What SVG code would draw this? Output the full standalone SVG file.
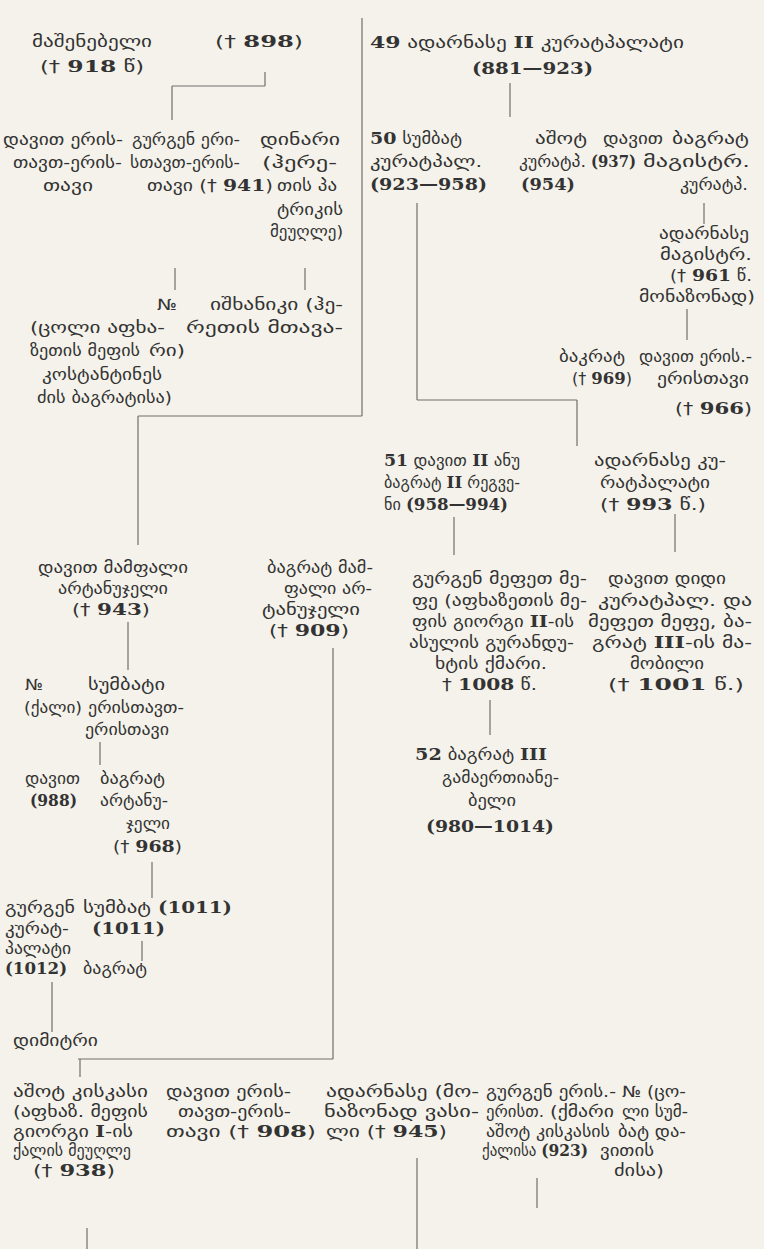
<svg xmlns="http://www.w3.org/2000/svg" width="764" height="1249" viewBox="0 0 764 1249">
<style>
text{font-family:"DejaVu Sans",sans-serif;font-size:15.5px;fill:#333}
.n{font-family:"DejaVu Serif",serif;font-weight:bold;font-size:16px}
#connectors line{stroke:#6e6e6e;stroke-width:1.2}
</style>
<rect width="764" height="1249" fill="#f4f2ea"/>
<g id="connectors">
<line x1="265" y1="72" x2="265" y2="86"/><line x1="172" y1="86" x2="265" y2="86"/><line x1="172" y1="86" x2="172" y2="120"/>
<line x1="175" y1="268" x2="175" y2="290"/><line x1="305" y1="268" x2="305" y2="290"/>
<line x1="362" y1="18" x2="362" y2="416"/><line x1="138" y1="416" x2="362" y2="416"/><line x1="138" y1="416" x2="138" y2="545"/>
<line x1="510" y1="83" x2="510" y2="117"/>
<line x1="417" y1="203" x2="417" y2="400"/><line x1="704" y1="203" x2="704" y2="224"/>
<line x1="687" y1="309" x2="687" y2="340"/>
<line x1="417" y1="400" x2="577" y2="400"/><line x1="577" y1="400" x2="577" y2="446"/>
<line x1="454" y1="517" x2="454" y2="555"/><line x1="675" y1="514" x2="675" y2="552"/>
<line x1="490" y1="700" x2="490" y2="735"/>
<line x1="128" y1="622" x2="128" y2="670"/>
<line x1="333" y1="648" x2="333" y2="1059"/>
<line x1="100" y1="742" x2="100" y2="765"/>
<line x1="152" y1="862" x2="152" y2="898"/>
<line x1="142" y1="941" x2="142" y2="961"/>
<line x1="52" y1="982" x2="52" y2="1032"/>
<line x1="78" y1="1059" x2="333" y2="1059"/><line x1="80" y1="1059" x2="80" y2="1077"/>
<line x1="87" y1="1228" x2="87" y2="1249"/>
<line x1="417" y1="1158" x2="417" y2="1249"/>
<line x1="537" y1="1178" x2="537" y2="1208"/>
</g>
<g id="n-mashenebeli"><text x="32" y="47" textLength="120" lengthAdjust="spacingAndGlyphs">მაშენებელი</text><text x="40" y="72" textLength="104" lengthAdjust="spacingAndGlyphs">(† <tspan class="n">918</tspan> წ)</text></g>
<g id="n-898"><text x="215" y="47" textLength="88" lengthAdjust="spacingAndGlyphs">(† <tspan class="n">898</tspan>)</text></g>
<g id="n-davit-eristavi"><text x="3" y="145" textLength="120" lengthAdjust="spacingAndGlyphs">დავით ერის-</text><text x="13" y="168" textLength="109" lengthAdjust="spacingAndGlyphs">თავთ-ერის-</text><text x="43" y="191" textLength="50" lengthAdjust="spacingAndGlyphs">თავი</text></g>
<g id="n-gurgen941"><text x="132" y="145" textLength="108" lengthAdjust="spacingAndGlyphs">გურგენ ერი-</text><text x="130" y="168" textLength="110" lengthAdjust="spacingAndGlyphs">სთავთ-ერის-</text><text x="147" y="191" textLength="126" lengthAdjust="spacingAndGlyphs">თავი († <tspan class="n">941</tspan>)</text></g>
<g id="n-dinari"><text x="260" y="145" textLength="80" lengthAdjust="spacingAndGlyphs">დინარი</text><text x="262" y="168" textLength="75" lengthAdjust="spacingAndGlyphs">(ჰერე-</text><text x="277" y="191" textLength="60" lengthAdjust="spacingAndGlyphs">თის პა</text><text x="277" y="215" textLength="66" lengthAdjust="spacingAndGlyphs">ტრიკის</text><text x="270" y="237" textLength="73" lengthAdjust="spacingAndGlyphs">მეუღლე)</text></g>
<g id="n-no1"><text x="157" y="310" textLength="20" lengthAdjust="spacingAndGlyphs">№</text><text x="30" y="333" textLength="135" lengthAdjust="spacingAndGlyphs">(ცოლი აფხა-</text><text x="30" y="356" textLength="110" lengthAdjust="spacingAndGlyphs">ზეთის მეფის</text><text x="42" y="380" textLength="120" lengthAdjust="spacingAndGlyphs">კოსტანტინეს</text><text x="37" y="403" textLength="135" lengthAdjust="spacingAndGlyphs">ძის ბაგრატისა)</text></g>
<g id="n-ishkhaniki"><text x="210" y="310" textLength="133" lengthAdjust="spacingAndGlyphs">იშხანიკი (ჰე-</text><text x="186" y="333" textLength="157" lengthAdjust="spacingAndGlyphs">რეთის მთავა-</text><text x="149" y="356" textLength="36" lengthAdjust="spacingAndGlyphs">რი)</text></g>
<g id="n-adarnase49"><text x="370" y="48" textLength="314" lengthAdjust="spacingAndGlyphs"><tspan class="n">49</tspan> ადარნასე <tspan class="n">II</tspan> კურატპალატი</text><text x="472" y="74" textLength="121" lengthAdjust="spacingAndGlyphs"><tspan class="n">(881—923)</tspan></text></g>
<g id="n-sumbat50"><text x="370" y="144" textLength="92" lengthAdjust="spacingAndGlyphs"><tspan class="n">50</tspan> სუმბატ</text><text x="370" y="167" textLength="112" lengthAdjust="spacingAndGlyphs">კურატპალ.</text><text x="370" y="190" textLength="117" lengthAdjust="spacingAndGlyphs"><tspan class="n">(923—958)</tspan></text></g>
<g id="n-ashot954"><text x="535" y="144" textLength="52" lengthAdjust="spacingAndGlyphs">აშოტ</text><text x="519" y="167" textLength="67" lengthAdjust="spacingAndGlyphs">კურატპ.</text><text x="521" y="190" textLength="54" lengthAdjust="spacingAndGlyphs"><tspan class="n">(954)</tspan></text></g>
<g id="n-davit937"><text x="603" y="144" textLength="60" lengthAdjust="spacingAndGlyphs">დავით</text><text x="591" y="167" textLength="45" lengthAdjust="spacingAndGlyphs"><tspan class="n">(937)</tspan></text></g>
<g id="n-bagrat-magistr"><text x="672" y="144" textLength="77" lengthAdjust="spacingAndGlyphs">ბაგრატ</text><text x="643" y="167" textLength="107" lengthAdjust="spacingAndGlyphs">მაგისტრ.</text><text x="680" y="190" textLength="68" lengthAdjust="spacingAndGlyphs">კურატპ.</text></g>
<g id="n-adarnase961"><text x="659" y="239" textLength="90" lengthAdjust="spacingAndGlyphs">ადარნასე</text><text x="660" y="260" textLength="92" lengthAdjust="spacingAndGlyphs">მაგისტრ.</text><text x="670" y="281" textLength="82" lengthAdjust="spacingAndGlyphs">(† <tspan class="n">961</tspan> წ.</text><text x="639" y="302" textLength="116" lengthAdjust="spacingAndGlyphs">მონაზონად)</text></g>
<g id="n-bakrat969"><text x="559" y="362" textLength="66" lengthAdjust="spacingAndGlyphs">ბაკრატ</text><text x="572" y="384" textLength="60" lengthAdjust="spacingAndGlyphs">(† <tspan class="n">969</tspan>)</text></g>
<g id="n-davit966"><text x="639" y="362" textLength="113" lengthAdjust="spacingAndGlyphs">დავით ერის.-</text><text x="657" y="384" textLength="92" lengthAdjust="spacingAndGlyphs">ერისთავი</text><text x="675" y="414" textLength="77" lengthAdjust="spacingAndGlyphs">(† <tspan class="n">966</tspan>)</text></g>
<g id="n-davit51"><text x="384" y="466" textLength="136" lengthAdjust="spacingAndGlyphs"><tspan class="n">51</tspan> დავით <tspan class="n">II</tspan> ანუ</text><text x="384" y="488" textLength="136" lengthAdjust="spacingAndGlyphs">ბაგრატ <tspan class="n">II</tspan> რეგვე-</text><text x="384" y="510" textLength="124" lengthAdjust="spacingAndGlyphs">ნი <tspan class="n">(958—994)</tspan></text></g>
<g id="n-adarnase993"><text x="594" y="466" textLength="132" lengthAdjust="spacingAndGlyphs">ადარნასე კუ-</text><text x="600" y="488" textLength="110" lengthAdjust="spacingAndGlyphs">რატპალატი</text><text x="600" y="510" textLength="106" lengthAdjust="spacingAndGlyphs">(† <tspan class="n">993</tspan> წ.)</text></g>
<g id="n-gurgen1008"><text x="412" y="584" textLength="175" lengthAdjust="spacingAndGlyphs">გურგენ მეფეთ მე-</text><text x="412" y="606" textLength="175" lengthAdjust="spacingAndGlyphs">ფე (აფხაზეთის მე-</text><text x="412" y="627" textLength="162" lengthAdjust="spacingAndGlyphs">ფის გიორგი <tspan class="n">II</tspan>-ის</text><text x="409" y="648" textLength="165" lengthAdjust="spacingAndGlyphs">ასულის გურანდუ-</text><text x="435" y="669" textLength="112" lengthAdjust="spacingAndGlyphs">ხტის ქმარი.</text><text x="442" y="690" textLength="95" lengthAdjust="spacingAndGlyphs">† <tspan class="n">1008</tspan> წ.</text></g>
<g id="n-davit1001"><text x="608" y="584" textLength="118" lengthAdjust="spacingAndGlyphs">დავით დიდი</text><text x="598" y="606" textLength="154" lengthAdjust="spacingAndGlyphs">კურატპალ. და</text><text x="588" y="627" textLength="164" lengthAdjust="spacingAndGlyphs">მეფეთ მეფე, ბა-</text><text x="592" y="648" textLength="160" lengthAdjust="spacingAndGlyphs">გრატ <tspan class="n">III</tspan>-ის მა-</text><text x="630" y="669" textLength="74" lengthAdjust="spacingAndGlyphs">მობილი</text><text x="608" y="690" textLength="136" lengthAdjust="spacingAndGlyphs">(† <tspan class="n">1001</tspan> წ.)</text></g>
<g id="n-bagrat52"><text x="415" y="760" textLength="132" lengthAdjust="spacingAndGlyphs"><tspan class="n">52</tspan> ბაგრატ <tspan class="n">III</tspan></text><text x="442" y="783" textLength="117" lengthAdjust="spacingAndGlyphs">გამაერთიანე-</text><text x="468" y="806" textLength="48" lengthAdjust="spacingAndGlyphs">ბელი</text><text x="426" y="832" textLength="128" lengthAdjust="spacingAndGlyphs"><tspan class="n">(980—1014)</tspan></text></g>
<g id="n-davit943"><text x="38" y="573" textLength="150" lengthAdjust="spacingAndGlyphs">დავით მამფალი</text><text x="58" y="594" textLength="110" lengthAdjust="spacingAndGlyphs">არტანუჯელი</text><text x="72" y="615" textLength="78" lengthAdjust="spacingAndGlyphs">(† <tspan class="n">943</tspan>)</text></g>
<g id="n-bagrat909"><text x="267" y="573" textLength="106" lengthAdjust="spacingAndGlyphs">ბაგრატ მამ-</text><text x="284" y="594" textLength="88" lengthAdjust="spacingAndGlyphs">ფალი არ-</text><text x="262" y="615" textLength="98" lengthAdjust="spacingAndGlyphs">ტანუჯელი</text><text x="269" y="636" textLength="80" lengthAdjust="spacingAndGlyphs">(† <tspan class="n">909</tspan>)</text></g>
<g id="n-no2"><text x="25" y="690" textLength="18" lengthAdjust="spacingAndGlyphs">№</text><text x="24" y="713" textLength="58" lengthAdjust="spacingAndGlyphs">(ქალი)</text></g>
<g id="n-sumbati"><text x="88" y="690" textLength="77" lengthAdjust="spacingAndGlyphs">სუმბატი</text><text x="88" y="713" textLength="96" lengthAdjust="spacingAndGlyphs">ერისთავთ-</text><text x="85" y="735" textLength="84" lengthAdjust="spacingAndGlyphs">ერისთავი</text></g>
<g id="n-davit988"><text x="25" y="784" textLength="55" lengthAdjust="spacingAndGlyphs">დავით</text><text x="30" y="806" textLength="47" lengthAdjust="spacingAndGlyphs"><tspan class="n">(988)</tspan></text></g>
<g id="n-bagrat968"><text x="100" y="784" textLength="65" lengthAdjust="spacingAndGlyphs">ბაგრატ</text><text x="100" y="806" textLength="68" lengthAdjust="spacingAndGlyphs">არტანუ-</text><text x="126" y="829" textLength="44" lengthAdjust="spacingAndGlyphs">ჯელი</text><text x="113" y="852" textLength="69" lengthAdjust="spacingAndGlyphs">(† <tspan class="n">968</tspan>)</text></g>
<g id="n-gurgen1012"><text x="5" y="913" textLength="70" lengthAdjust="spacingAndGlyphs">გურგენ</text><text x="5" y="934" textLength="64" lengthAdjust="spacingAndGlyphs">კურატ-</text><text x="5" y="954" textLength="66" lengthAdjust="spacingAndGlyphs">პალატი</text><text x="5" y="974" textLength="62" lengthAdjust="spacingAndGlyphs"><tspan class="n">(1012)</tspan></text></g>
<g id="n-sumbat1011"><text x="83" y="913" textLength="68" lengthAdjust="spacingAndGlyphs">სუმბატ</text><text x="92" y="934" textLength="73" lengthAdjust="spacingAndGlyphs"><tspan class="n">(1011)</tspan></text></g>
<g id="n-1011"><text x="158" y="913" textLength="74" lengthAdjust="spacingAndGlyphs"><tspan class="n">(1011)</tspan></text></g>
<g id="n-bagrat"><text x="83" y="974" textLength="64" lengthAdjust="spacingAndGlyphs">ბაგრატ</text></g>
<g id="n-dimitri"><text x="13" y="1046" textLength="85" lengthAdjust="spacingAndGlyphs">დიმიტრი</text></g>
<g id="n-ashot-kiskasi"><text x="13" y="1097" textLength="135" lengthAdjust="spacingAndGlyphs">აშოტ კისკასი</text><text x="13" y="1117" textLength="135" lengthAdjust="spacingAndGlyphs">(აფხაზ. მეფის</text><text x="13" y="1137" textLength="120" lengthAdjust="spacingAndGlyphs">გიორგი <tspan class="n">I</tspan>-ის</text><text x="13" y="1156" textLength="118" lengthAdjust="spacingAndGlyphs">ქალის მეუღლე</text><text x="33" y="1176" textLength="82" lengthAdjust="spacingAndGlyphs">(† <tspan class="n">938</tspan>)</text></g>
<g id="n-davit908"><text x="166" y="1097" textLength="125" lengthAdjust="spacingAndGlyphs">დავით ერის-</text><text x="178" y="1117" textLength="113" lengthAdjust="spacingAndGlyphs">თავთ-ერის-</text><text x="166" y="1137" textLength="150" lengthAdjust="spacingAndGlyphs">თავი († <tspan class="n">908</tspan>)</text></g>
<g id="n-adarnase945"><text x="326" y="1097" textLength="153" lengthAdjust="spacingAndGlyphs">ადარნასე (მო-</text><text x="324" y="1117" textLength="155" lengthAdjust="spacingAndGlyphs">ნაზონად ვასი-</text><text x="326" y="1137" textLength="121" lengthAdjust="spacingAndGlyphs">ლი († <tspan class="n">945</tspan>)</text></g>
<g id="n-gurgen923"><text x="486" y="1097" textLength="130" lengthAdjust="spacingAndGlyphs">გურგენ ერის.-</text><text x="486" y="1117" textLength="58" lengthAdjust="spacingAndGlyphs">ერისთ.</text><text x="486" y="1137" textLength="124" lengthAdjust="spacingAndGlyphs">აშოტ კისკასის</text><text x="482" y="1156" textLength="106" lengthAdjust="spacingAndGlyphs">ქალისა <tspan class="n">(923)</tspan></text></g>
<g id="n-kmari"><text x="550" y="1117" textLength="64" lengthAdjust="spacingAndGlyphs">(ქმარი</text></g>
<g id="n-no3"><text x="622" y="1097" textLength="64" lengthAdjust="spacingAndGlyphs">№ (ცო-</text><text x="622" y="1117" textLength="66" lengthAdjust="spacingAndGlyphs">ლი სუმ-</text><text x="618" y="1137" textLength="68" lengthAdjust="spacingAndGlyphs">ბატ და-</text><text x="600" y="1156" textLength="54" lengthAdjust="spacingAndGlyphs">ვითის</text><text x="614" y="1176" textLength="50" lengthAdjust="spacingAndGlyphs">ძისა)</text></g>
</svg>
